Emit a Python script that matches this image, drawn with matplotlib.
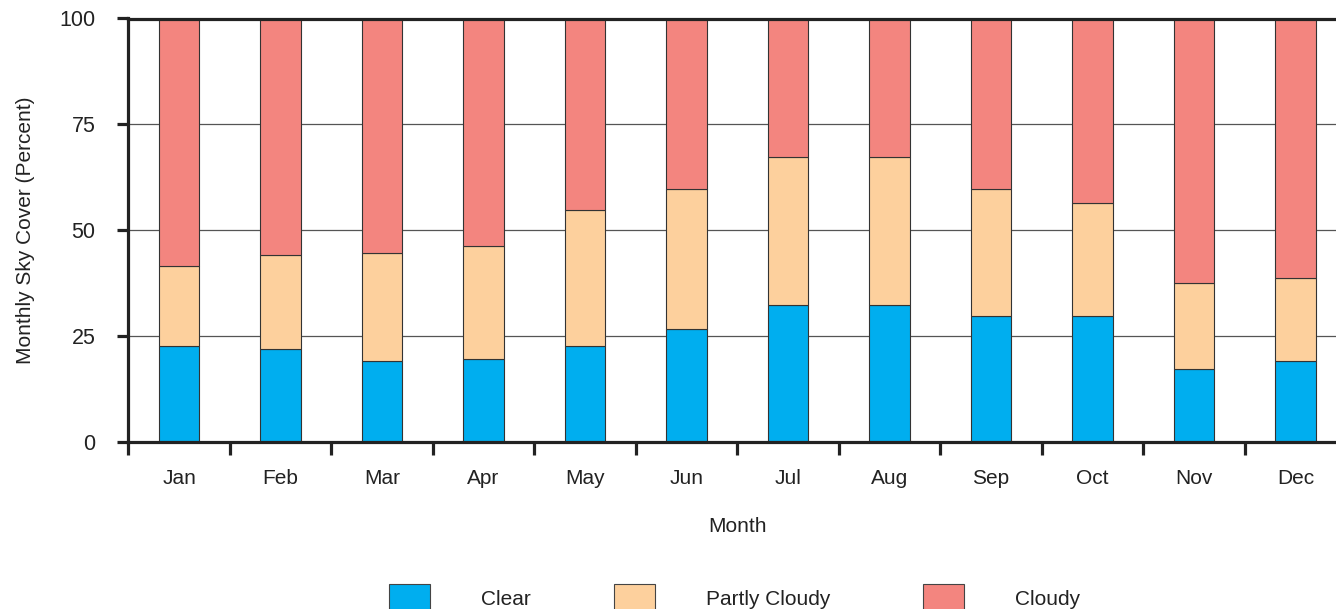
import matplotlib
matplotlib.use("Agg")
import matplotlib.pyplot as plt
from matplotlib.patches import Rectangle
import numpy as np

plt.rcParams["font.family"] = ["Liberation Sans", "DejaVu Sans"]

months = ["Jan", "Feb", "Mar", "Apr", "May", "Jun",
          "Jul", "Aug", "Sep", "Oct", "Nov", "Dec"]
clear = [22.5, 22.0, 19.0, 19.5, 22.5, 26.6, 32.2, 32.2, 29.6, 29.6, 17.1, 19.1]
partly_cloudy = [19.1, 22.1, 25.7, 26.7, 32.2, 33.1, 35.1, 35.1, 30.1, 26.7, 20.5, 19.6]
cloudy = [58.4, 55.9, 55.3, 53.8, 45.3, 40.3, 32.7, 32.7, 40.3, 43.7, 62.4, 61.3]

series_names = ["Clear", "Partly Cloudy", "Cloudy"]
colors = ["#00AEEF", "#FDD09D", "#F3857F"]
text_color = "#222222"
axis_color = "#222222"

W, H = 1336, 609
fig = plt.figure(figsize=(W / 100, H / 100), dpi=100)
ax = fig.add_axes([128.3 / W, 1 - 441.7 / H, 1218 / W, 423.2 / H])

x = np.arange(len(months))
bottom = np.zeros(len(months))
for vals, col in zip([clear, partly_cloudy, cloudy], colors):
    ax.bar(x, vals, width=0.4, bottom=bottom, color=col,
           edgecolor="#333333", linewidth=0.8, zorder=2)
    bottom += np.array(vals)

ax.set_xlim(-0.5, 11.5)
ax.set_ylim(0, 100)

# grid
ax.set_axisbelow(True)
ax.yaxis.grid(True, color="#555555", linewidth=0.9)

# spines
for s in ["left", "bottom", "top"]:
    ax.spines[s].set_linewidth(2.3)
    ax.spines[s].set_color(axis_color)
ax.spines["right"].set_visible(False)

# x ticks: marks between months, labels centred on bars
ax.set_xticks(np.arange(-0.5, 12, 1))
ax.set_xticklabels([])
ax.set_xticks(x, minor=True)
ax.set_xticklabels(months, minor=True)
ax.tick_params(axis="x", which="major", direction="out", length=9,
               width=2.3, color=axis_color)
ax.tick_params(axis="x", which="minor", length=0, pad=19.5,
               labelsize=15, labelcolor=text_color)

ax.set_yticks([0, 25, 50, 75, 100])
ax.tick_params(axis="y", direction="out", length=8, width=2.3,
               color=axis_color, pad=15.5, labelsize=15.5, labelcolor=text_color)

ax.set_ylabel("Monthly Sky Cover (Percent)", fontsize=15, color=text_color,
              labelpad=18)
ax.set_xlabel("Month", fontsize=15, color=text_color, labelpad=21)

# legend row along the bottom edge
patch_lefts = [389, 614, 923]
for left, name, col in zip(patch_lefts, series_names, colors):
    fig.add_artist(Rectangle((left / W, (H - 614) / H), 41 / W, 30 / H,
                             transform=fig.transFigure, facecolor=col,
                             edgecolor="#444444", linewidth=0.8))
    fig.text((left + 92) / W, (H - 605) / H, name, fontsize=15,
             color=text_color, ha="left", va="baseline")

fig.savefig("out.png", dpi=100)
